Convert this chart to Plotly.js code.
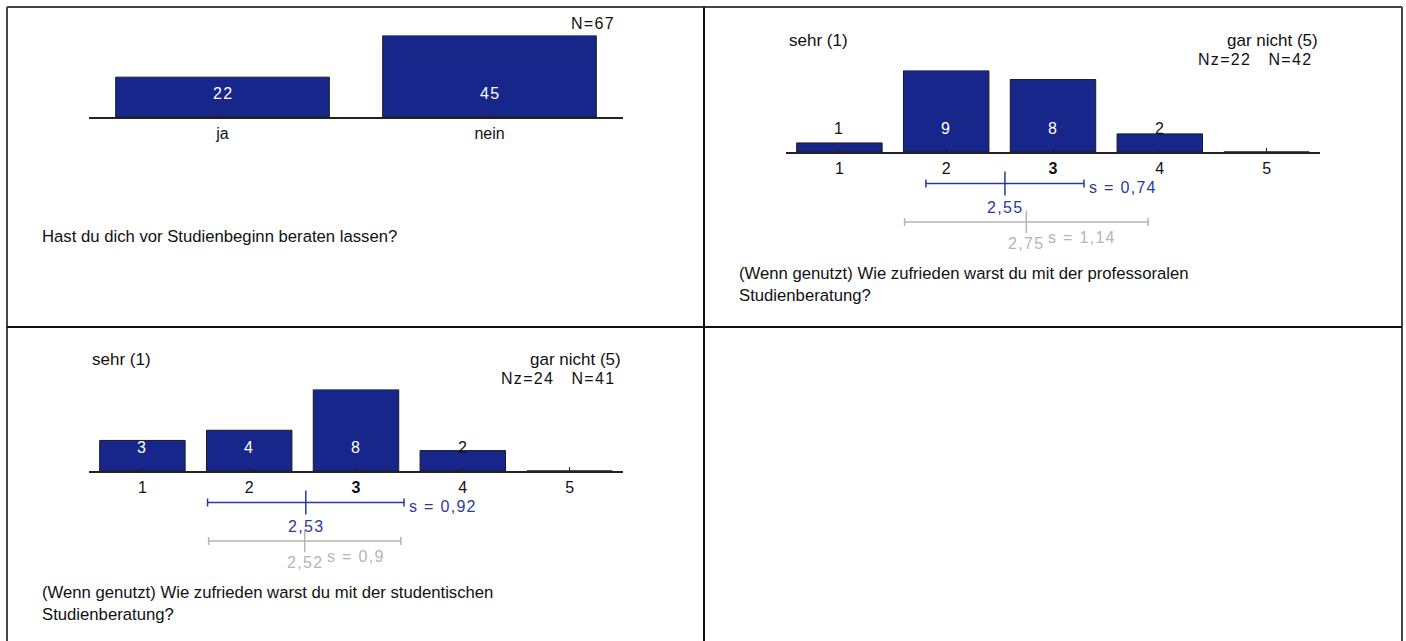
<!DOCTYPE html>
<html><head><meta charset="utf-8">
<script src="https://cdn.plot.ly/plotly-3.0.1.min.js"></script>
<style>
html,body{margin:0;padding:0;background:#fff;}
#chart{width:1406px;height:641px;}
text[style*="Helvetica"]{letter-spacing:1.3px;}
</style></head><body><div id="chart"></div>
<script>
// ---------- data ----------
// Q1: Beratung vor Studienbeginn
const q1Categories = ['ja', 'nein'];
const q1Counts = [22, 45];
const q1N = 67;
const q1Question = 'Hast du dich vor Studienbeginn beraten lassen?';

// scale used by Q2 and Q3
const scaleCategories = [1, 2, 3, 4, 5];
const scaleLeftLabel = 'sehr (1)';
const scaleRightLabel = 'gar nicht (5)';

// Q2: professorale Studienberatung
const q2Counts = [1, 9, 8, 2, 0];
const q2Nz = 22, q2N = 42;
const q2Mean = 2.55, q2Sd = 0.74;
const q2RefMean = 2.75, q2RefSd = 1.14;
const q2Median = 3;
const q2Question = '(Wenn genutzt) Wie zufrieden warst du mit der professoralen<br>Studienberatung?';

// Q3: studentische Studienberatung
const q3Counts = [3, 4, 8, 2, 0];
const q3Nz = 24, q3N = 41;
const q3Mean = 2.53, q3Sd = 0.92;
const q3RefMean = 2.52, q3RefSd = 0.9;
const q3Median = 3;
const q3Question = '(Wenn genutzt) Wie zufrieden warst du mit der studentischen<br>Studienberatung?';

// ---------- styling / layout helpers ----------
const W = 1406, H = 641;
const px = v => v / W;
const py = v => 1 - v / H;
const FONT = 'Liberation Sans';
const SPACED = 'Liberation Sans, Helvetica';
const TXT = '#111';
const BAR_FILL = '#16268a';
const BAR_LINE = '#1a1a1a';
const BLUE = '#2a3a9c';
const GRAY = '#b5b5b5';
const BAR_PX = 81.5;           // height of tallest bar in px
const BLUE_ROW = -31.5, GRAY_ROW = -70;   // stats rows (px below baseline)
const fmt = v => String(v).replace('.', ',');
const NBSP = '\u00A0';

const traces = [];
const annotations = [];
const layout = {
  width: W, height: H,
  margin: {l: 0, r: 0, t: 0, b: 0},
  paper_bgcolor: '#fff', plot_bgcolor: 'rgba(0,0,0,0)',
  showlegend: false,
  font: {family: FONT, size: 16, color: TXT},
  annotations: annotations,
  shapes: []
};

function xAxis(left, right, range, anchor, extra) {
  return Object.assign({
    domain: [px(left), px(right)], range: range, anchor: anchor,
    showline: true, linecolor: '#222', linewidth: 1.5,
    ticks: 'inside', ticklen: 4, tickwidth: 1, tickcolor: '#222',
    showgrid: false, zeroline: false, fixedrange: true,
    tickfont: {family: FONT, size: 16, color: TXT}, ticklabelstandoff: 1
  }, extra || {});
}
function yAxis(top, bottom, range, anchor) {
  return {domain: [py(bottom), py(top)], range: range, anchor: anchor, visible: false,
    showgrid: false, zeroline: false, fixedrange: true};
}

function panel(o) {
  const maxV = Math.max(...o.counts);
  const xi = o.xa === 'x' ? '' : o.xa.slice(1);
  const yi = o.ya === 'y' ? '' : o.ya.slice(1);
  layout['xaxis' + xi] = xAxis(o.left, o.right, o.range, o.ya, o.xextra);
  layout['yaxis' + yi] = yAxis(o.baseline - BAR_PX, o.baseline, [0, maxV], o.xa);
  traces.push({
    type: 'bar', x: o.cats, y: o.counts, xaxis: o.xa, yaxis: o.ya, width: 0.8,
    marker: {color: BAR_FILL, line: {color: BAR_LINE, width: 1}}, hoverinfo: 'skip'
  });
  // value labels at fixed height above the baseline
  o.counts.forEach((v, i) => {
    if (v <= 0) return;
    const inside = v / maxV * BAR_PX >= 28;
    annotations.push({xref: o.xa, yref: o.ya, x: o.isCat ? i : o.cats[i], y: 0, yshift: 24,
      text: String(v), showarrow: false,
      font: {family: SPACED, size: 16, color: inside ? '#fff' : TXT}});
  });
  // question text
  annotations.push({xref: 'paper', yref: 'paper', x: px(o.cellLeft + 33), y: py(o.qCenter),
    xanchor: 'left', yanchor: 'middle', align: 'left', text: o.question, showarrow: false,
    font: {family: FONT, size: 16.7, color: TXT}});
  const dx = o.xa + ' domain', dy = o.ya + ' domain';
  if (o.nText) {
    annotations.push({xref: dx, yref: dy, x: 1, y: 1, xanchor: 'right', yanchor: 'middle',
      xshift: -6.5, yshift: 11.5, text: o.nText, showarrow: false,
      font: {family: SPACED, size: 16, color: TXT}});
  }
  if (o.scale) {
    annotations.push({xref: dx, yref: dy, x: 0, y: 1, xanchor: 'left', yanchor: 'middle',
      xshift: 1, yshift: 30.5, text: scaleLeftLabel, showarrow: false,
      font: {family: FONT, size: 17, color: TXT}});
    annotations.push({xref: dx, yref: dy, x: 1, y: 1, xanchor: 'right', yanchor: 'middle',
      xshift: 0, yshift: 30.5, text: scaleRightLabel, showarrow: false,
      font: {family: FONT, size: 17, color: TXT}});
  }
  if (o.stats) {
    const s = o.stats;
    const si = s.axis.slice(1);
    layout['yaxis' + si] = yAxis(o.baseline, o.baseline + 100, [-100, 0], o.xa);
    [[s.mean, s.sd, BLUE, BLUE_ROW, 17], [s.refMean, s.refSd, GRAY, GRAY_ROW, 16]].forEach(r => {
      traces.push({
        type: 'scatter', mode: 'markers', x: [r[0]], y: [r[3]], xaxis: o.xa, yaxis: s.axis,
        marker: {symbol: 'line-ns-open', size: r[4], color: r[2], line: {color: r[2], width: 1.5}},
        error_x: {type: 'data', array: [r[1]], symmetric: true, color: r[2], thickness: 1.5, width: 4},
        hoverinfo: 'skip'
      });
    });
    // blue labels
    annotations.push({xref: o.xa, yref: s.axis, x: s.mean, y: BLUE_ROW - 23.8, text: fmt(s.mean),
      showarrow: false, font: {family: SPACED, size: 16, color: BLUE}});
    annotations.push({xref: o.xa, yref: s.axis, x: s.mean + s.sd, y: BLUE_ROW - 4, xanchor: 'left',
      xshift: 3, text: 's = ' + fmt(s.sd), showarrow: false, font: {family: SPACED, size: 16, color: BLUE}});
    // grey labels
    annotations.push({xref: o.xa, yref: s.axis, x: s.refMean, y: GRAY_ROW - 21.5, text: fmt(s.refMean),
      showarrow: false, font: {family: SPACED, size: 16, color: GRAY}});
    annotations.push({xref: o.xa, yref: s.axis, x: s.refMean, y: GRAY_ROW - 15.3, xanchor: 'left',
      xshift: 20, text: 's = ' + fmt(s.refSd), showarrow: false, font: {family: SPACED, size: 16, color: GRAY}});
  }
}

const tickText = m => scaleCategories.map(c => c === m ? '<b>' + c + '</b>' : String(c));

panel({cats: q1Categories, counts: q1Counts, isCat: true, xa: 'x', ya: 'y',
  left: 89, right: 623, range: [-0.5, 1.5], baseline: 117, cellLeft: 7, qCenter: 236,
  question: q1Question, nText: 'N=' + q1N, xextra: {type: 'category'}});

panel({cats: scaleCategories, counts: q2Counts, xa: 'x2', ya: 'y2',
  left: 786, right: 1320, range: [0.5, 5.5], baseline: 152, cellLeft: 704, qCenter: 284.2,
  question: q2Question, scale: true,
  nText: 'Nz=' + q2Nz + NBSP + NBSP + ' N=' + q2N,
  xextra: {tickvals: scaleCategories, ticktext: tickText(q2Median)},
  stats: {axis: 'y4', mean: q2Mean, sd: q2Sd, refMean: q2RefMean, refSd: q2RefSd}});

panel({cats: scaleCategories, counts: q3Counts, xa: 'x3', ya: 'y3',
  left: 89, right: 623, range: [0.5, 5.5], baseline: 471, cellLeft: 7, qCenter: 603.7,
  question: q3Question, scale: true,
  nText: 'Nz=' + q3Nz + NBSP + NBSP + ' N=' + q3N,
  xextra: {tickvals: scaleCategories, ticktext: tickText(q3Median)},
  stats: {axis: 'y5', mean: q3Mean, sd: q3Sd, refMean: q3RefMean, refSd: q3RefSd}});

// table grid
const gridLine = (x0, y0, x1, y1, c) => ({type: 'line', xref: 'paper', yref: 'paper',
  x0: px(x0), y0: py(y0), x1: px(x1), y1: py(y1), line: {color: c, width: 2}});
layout.shapes.push(
  gridLine(7, 7, 1402, 7, '#444'),
  gridLine(7, 7, 7, 641, '#444'),
  gridLine(1402, 7, 1402, 641, '#444'),
  gridLine(704, 7, 704, 641, '#111'),
  gridLine(7, 327, 1402, 327, '#111')
);

Plotly.newPlot('chart', traces, layout, {staticPlot: true, displayModeBar: false});
</script></body></html>
